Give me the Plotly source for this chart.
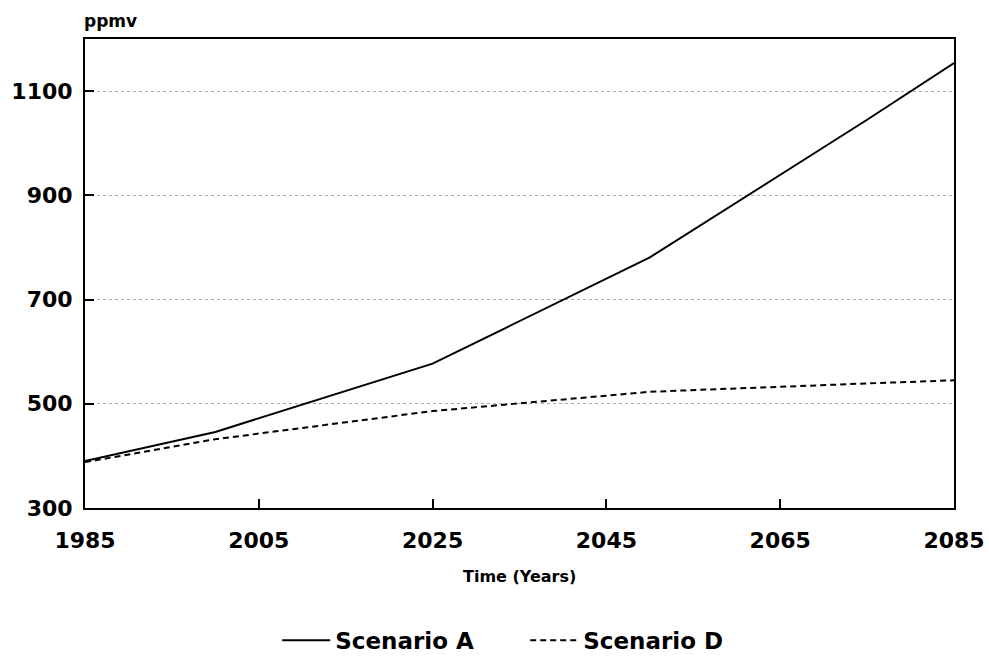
import plotly.graph_objects as go

years = [1985, 2000, 2025, 2050, 2075, 2085]
scenario_a = [390, 446, 577, 781, 1045, 1154]
scenario_d = [388, 432, 486, 523, 539, 545]

x_ticks = [1985, 2005, 2025, 2045, 2065, 2085]
y_ticks = [300, 500, 700, 900, 1100]

FONT = "DejaVu Sans"

fig = go.Figure()
fig.add_trace(go.Scatter(x=years, y=scenario_a, mode="lines", name="Scenario A",
                         line=dict(color="black", width=2)))
fig.add_trace(go.Scatter(x=years, y=scenario_d, mode="lines", name="Scenario D",
                         line=dict(color="black", width=2, dash="6px,4px")))

fig.update_layout(
    width=989, height=656,
    margin=dict(l=85, r=35, t=39, b=148, autoexpand=False),
    paper_bgcolor="white", plot_bgcolor="white",
    font=dict(family=FONT, color="black", size=22, weight="bold"),
    showlegend=True,
    legend=dict(orientation="h", x=0.2212, xanchor="left", y=-0.282, yanchor="middle",
                font=dict(family=FONT, size=23, weight="bold"),
                entrywidth=185, entrywidthmode="pixels",
                itemwidth=48, tracegroupgap=0),
    xaxis=dict(range=[1985, 2085], tickvals=x_ticks, ticktext=[str(v) for v in x_ticks],
               showgrid=False, zeroline=False,
               showline=True, linecolor="black", linewidth=2, mirror=True,
               ticks="inside", ticklen=9, tickwidth=1.5, tickcolor="black",
               ticklabelstandoff=12,
               tickfont=dict(family=FONT, size=22, weight="bold")),
    yaxis=dict(range=[300, 1200], tickvals=y_ticks, ticktext=[str(v) for v in y_ticks],
               showgrid=True, gridcolor="#aaaaaa", griddash="dot", gridwidth=1,
               zeroline=False,
               showline=True, linecolor="black", linewidth=2, mirror=True,
               ticks="inside", ticklen=9, tickwidth=1.5, tickcolor="black",
               ticklabelstandoff=6,
               tickfont=dict(family=FONT, size=22, weight="bold")),
    annotations=[
        dict(text="ppmv", xref="paper", yref="paper", x=0, y=1.0,
             xanchor="left", yanchor="bottom", yshift=6, xshift=-3, showarrow=False,
             font=dict(family=FONT, size=17, weight="bold")),
        dict(text="Time (Years)", xref="paper", yref="paper", x=0.5, y=0,
             xanchor="center", yanchor="middle", yshift=-68, showarrow=False,
             font=dict(family=FONT, size=16, weight="bold")),
    ],
)

fig.write_html("out.html",
               config={"displayModeBar": False},
               post_script="document.body.style.margin='0px';document.body.style.overflow='hidden';")
